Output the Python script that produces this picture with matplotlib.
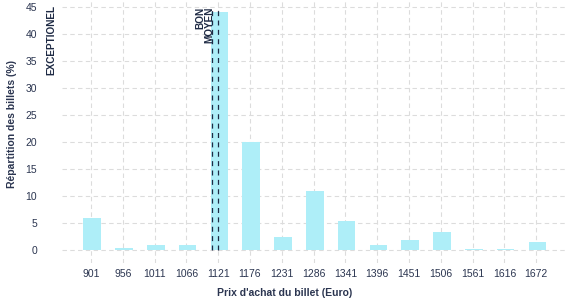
import matplotlib
matplotlib.use("Agg")
import matplotlib.pyplot as plt
import numpy as np

categories = ["901", "956", "1011", "1066", "1121", "1176", "1231", "1286",
              "1341", "1396", "1451", "1506", "1561", "1616", "1672"]
values = [5.9, 0.4, 0.95, 0.95, 44.0, 20.0, 2.35, 10.9, 5.4, 0.9, 1.85, 3.3, 0.2, 0.2, 1.5]
ref_labels = ["EXCEPTIONEL", "BON", "MOYEN"]
ref_positions = [-1.23, 4.0, 3.8]  # in category-index units

plt.rcParams['font.family'] = ['Liberation Sans', 'DejaVu Sans']
txt = "#2b3550"

fig = plt.figure(figsize=(5.77, 3.0), dpi=100)
ax = fig.add_axes([62/577, 1 - 263/300, (567-62)/577, 263/300])

x = np.arange(len(categories))
ax.bar(x + 0.04, values, width=0.55, color="#aeeef8", edgecolor="none", zorder=2)

ax.set_xlim(-0.91, 14.97)
ax.set_ylim(-2.4, 46.3)
ax.set_xticks(x)
ax.set_xticklabels(categories)
ax.set_yticks(np.arange(0, 46, 5))

for s in ax.spines.values():
    s.set_visible(False)
ax.tick_params(axis='both', length=0, colors=txt, labelsize=7.5)
ax.tick_params(axis='y', pad=18)
ax.tick_params(axis='x', pad=4)
ax.grid(True, color="#dcdcdc", linestyle=(0, (4, 3)), linewidth=0.8, zorder=0)
ax.set_axisbelow(True)

# reference lines
ax.vlines(ref_positions[1:], 0, 45, colors="#1e2a44", linestyles=[(0, (4, 3.5))],
          linewidth=0.9, zorder=3)

ax.text(-1.23, 45.3, ref_labels[0], rotation=90, ha='center', va='top',
        fontsize=7.2, fontweight='bold', color="#1e2a44", clip_on=False)
ax.text(3.45, 45.0, ref_labels[1], rotation=90, ha='center', va='top',
        fontsize=7.2, fontweight='bold', color="#1e2a44", clip_on=False)
ax.text(3.72, 45.0, ref_labels[2], rotation=90, ha='center', va='top',
        fontsize=7.2, fontweight='bold', color="#1e2a44", clip_on=False)

ax.set_xlabel("Prix d'achat du billet (Euro)", fontsize=7.5, fontweight='bold', color=txt)
ax.xaxis.set_label_coords((284.5 - 62) / 505, -(293 - 263) / 263)
ax.set_ylabel("Répartition des billets (%)", fontsize=7.5, fontweight='bold', color=txt)
ax.yaxis.set_label_coords(-(62 - 12) / 505, (263 - 124) / 263)
ax.xaxis.label.set_va('center')
ax.yaxis.label.set_va('center')

fig.savefig("out.png", dpi=100)
